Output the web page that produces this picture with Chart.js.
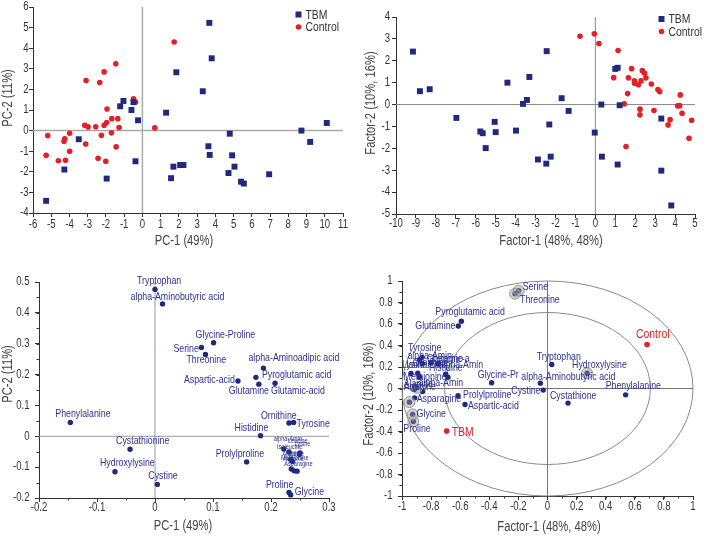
<!DOCTYPE html>
<html>
<head>
<meta charset="utf-8">
<script src="https://cdn.jsdelivr.net/npm/chart.js@4.4.1/dist/chart.umd.min.js"></script>
<style>
  body { margin: 0; background: #fff; }
  #wrap { position: relative; width: 708px; height: 538px; overflow: hidden; }
  canvas { position: absolute; }
</style>
</head>
<body>
<div id="wrap">
  <canvas id="c1" width="354" height="269" style="left:0;top:0"></canvas>
  <canvas id="c2" width="354" height="269" style="left:354px;top:0"></canvas>
  <canvas id="c3" width="354" height="269" style="left:0;top:269px"></canvas>
  <canvas id="c4" width="354" height="269" style="left:354px;top:269px"></canvas>
</div>
<script>
// --- panel 1 : PCA scores ---
const pcaTbmX = [3.67, 3.80, 1.86, 3.31, -1.04, -0.49, -1.22, -0.60, -0.24, 1.30, -3.49, 4.79, 8.72, 10.11, 9.20, 3.62, 3.69, 4.92, -0.38, -4.28, -1.96, 1.70, 2.07, 2.25, 1.57, 5.05, 4.72, 6.95, 5.41, 5.56, -5.28];
const pcaTbmY = [5.23, 3.51, 2.83, 1.91, 1.44, 1.38, 1.18, 1.00, 0.50, 0.87, -0.42, -0.15, 0.00, 0.37, -0.55, -0.76, -1.18, -1.20, -1.49, -1.89, -2.33, -1.75, -1.67, -1.67, -2.31, -1.75, -2.06, -2.12, -2.48, -2.57, -3.41];
const pcaCtrlX = [1.74, -1.46, -2.10, -3.09, -2.34, -0.49, -0.38, -1.94, -1.68, -1.35, -1.96, -2.10, -3.16, -2.98, -2.56, -1.28, 0.68, -5.19, -2.25, -1.70, -3.99, -4.26, -4.30, -3.11, -1.44, -3.99, -5.28, -4.61, -4.22, -2.43, -2.01];
const pcaCtrlY = [4.30, 3.24, 2.85, 2.43, 2.33, 1.54, 1.38, 1.05, 0.58, 0.58, 0.39, 0.26, 0.26, 0.18, 0.19, 0.15, 0.13, -0.24, -0.23, -0.11, -0.13, -0.40, -0.52, -0.65, -0.79, -1.00, -1.20, -1.46, -1.44, -1.34, -1.49];

// --- panel 2 : factor scores ---
const facTbmX = [-9.15, -8.80, -8.31, -6.97, -4.41, -3.31, -2.44, -3.43, -3.63, -1.69, -1.34, -2.31, -5.05, -5.77, -5.65, -5.00, -3.98, -5.50, -2.88, -2.46, -2.24, 0.30, 1.22, -0.03, 1.00, 1.12, 0.33, 1.12, 3.31, 3.31, 3.81];
const facTbmY = [2.42, 0.61, 0.70, -0.61, 1.00, 1.26, 2.44, 0.21, 0.03, 0.29, -0.29, -0.91, -0.79, -1.23, -1.31, -1.26, -1.19, -1.99, -2.51, -2.70, -2.38, 0.00, -0.03, -1.28, 1.63, 1.68, -2.38, -2.74, -0.64, -3.02, -4.61];
const facCtrlX = [-0.77, -0.05, 0.18, 1.14, 1.82, 0.92, 1.66, 1.96, 1.97, 2.16, 2.29, 2.36, 2.47, 2.54, 2.81, 3.14, 3.23, 1.62, 1.45, 2.24, 2.24, 2.94, 3.75, 3.65, 4.26, 4.13, 4.23, 4.35, 4.83, 4.70, 1.54];
const facCtrlY = [3.12, 3.23, 2.79, 2.47, 1.64, 1.23, 1.22, 1.08, 0.97, 0.90, 1.08, 1.55, 1.43, 1.22, 0.94, 0.69, 0.59, 0.50, 0.03, -0.21, -0.47, -0.27, -0.69, -0.93, 0.44, -0.06, -0.05, -0.40, -0.72, -1.54, -1.92];

const groupNames = ['TBM', 'Control'];

// --- panel 3 : PCA loadings ---
const loadNames = ['Tryptophan', 'alpha-Aminobutyric acid', 'Glycine-Proline', 'Serine', 'Threonine',
  'alpha-Aminoadipic acid', 'Pyroglutamic acid', 'Aspartic-acid', 'Glutamine', 'Glutamic-acid',
  'Phenylalanine', 'Ornithine', 'Tyrosine', 'Histidine', 'Cystathionine', 'Hydroxylysine', 'Cystine',
  'Prolylproline', 'Proline', 'Glycine',
  'alpha-Amin', 'Isoleucine', 'Lysine', 'Leucine', 'Valine', 'Alanine', 'Arginine', 'Asparagine', 'Methionine'];
const loadX = [0.000, 0.013, 0.101, 0.080, 0.087, 0.187, 0.174, 0.143, 0.179, 0.207,
  -0.146, 0.231, 0.239, 0.182, -0.043, -0.069, 0.004, 0.158, 0.231, 0.234,
  0.222, 0.231, 0.249, 0.250, 0.234, 0.237, 0.235, 0.240, 0.245];
const loadY = [0.476, 0.429, 0.303, 0.288, 0.265, 0.221, 0.191, 0.179, 0.169, 0.172,
  0.045, 0.043, 0.045, 0.002, -0.042, -0.115, -0.156, -0.083, -0.182, -0.190,
  -0.041, -0.051, -0.058, -0.054, -0.075, -0.082, -0.106, -0.112, -0.113];

// --- panel 4 : factor loadings ---
const facLoadNames = ['Serine', 'Threonine', 'Pyroglutamic acid', 'Glutamine', 'Tyrosine', 'alpha-Amin',
  'Glutamic-a', 'Isoleucine', 'Leucine', 'alpha-Amin', 'Lysine', 'Histidine', 'Methionine', 'Ornithine',
  'Alanine', 'alpha-Amin', 'Arginine', 'Valine', 'Asparagine', 'Cysteine', 'Glycine', 'Proline',
  'Prolylproline', 'Aspartic-acid', 'Glycine-Pr', 'Tryptophan', 'Hydroxylysine', 'alpha-Aminobutyric acid',
  'Cystine', 'Phenylalanine', 'Cystathione'];
const facLoadX = [-0.198, -0.223, -0.592, -0.613, -0.862, -0.880, -0.800, -0.860, -0.750, -0.700, -0.938, -0.684,
  -0.879, -0.892, -0.913, -0.858, -0.920, -0.897, -0.913, -0.949, -0.927, -0.922,
  -0.615, -0.567, -0.384, 0.029, 0.272, -0.049, -0.029, 0.537, 0.141];
const facLoadY = [0.910, 0.882, 0.625, 0.582, 0.290, 0.265, 0.240, 0.230, 0.230, 0.133, 0.140, 0.105,
  0.105, 0.142, 0.022, -0.028, -0.009, 0.006, -0.087, -0.127, -0.241, -0.307,
  -0.068, -0.149, 0.053, 0.223, 0.142, 0.050, -0.015, -0.059, -0.136];
const haloNames = ['Serine', 'Threonine', 'Hydroxylysine', 'Glycine', 'Proline', 'Cysteine', 'Valine'];
const groupLoadX = [-0.693, 0.684];
const groupLoadY = [-0.396, 0.409];
const circleRadii = [1, 0.707];

// label placement (text left edge / middle, px from the point, optional font size)
const loadLabelPos = [[-18, -8], [-32, -7], [-18, -8], [-28, 2], [-19, 5], [-15, -10], [6, -2], [-54, -1], [-30, 7], [-4, 8],
  [-15, -8], [-28, -7], [3, 2], [-26, -8], [-14, -8], [-15, -9], [-9, -8], [-31, -8], [-23, -7], [4, -3],
  [-10, -10, 7], [-12, -5, 7], [-5, -10, 7], [-12, -12, 7], [-2, -5, 7], [-10, -8, 7], [-8, -10, 7], [-10, -7, 7], [-16, -13, 7]];
const facLabelPos = [[4, -4], [5, 6], [-26, -9], [-43, 0], [-14, -9], [-12, -4], [-4, -4], [-16, 1], [-6, -5], [-7, -9], [-9, -8], [-19, -9],
  [-16, 0], [-5, -10], [-11, -2], [-4, -9], [-10, -2], null, [2, 1], null, [4, 0], [-10, 7],
  [5, -1], [3, 1], [-14, -8], [-15, -8], [-15, -8], [-19, -6], [-32, 1], [-20, -9], [-18, -7]];
const groupLabelPos = [[5, 1], [-11, -10]];

const FONT = "'Liberation Sans', Arial, sans-serif";
const SX = 0.8;          // the original uses a narrow face; squeeze the text horizontally
const NAVY = '#1f2a7c';
const LABEL = '#2e3192';
const RED = '#e41f26';

function pts(xs, ys) { return xs.map((x, i) => ({ x: x, y: ys[i] })); }
function fmt(v) { return String(Math.round(v * 1000) / 1000); }

// draw text squeezed horizontally
function squeeze(ctx, text, x, y, align, rot) {
  ctx.save();
  ctx.translate(x, y);
  if (rot) ctx.rotate(rot);
  ctx.scale(SX, 1);
  ctx.textAlign = align;
  ctx.textBaseline = 'middle';
  ctx.fillText(text, 0, 0);
  ctx.restore();
}

// grey zero lines across the plot
const zeroLines = {
  id: 'zeroLines',
  beforeDatasetsDraw(chart, args, opts) {
    const { ctx, chartArea: a, scales: { x, y } } = chart;
    const px = x.getPixelForValue(0), py = y.getPixelForValue(0);
    ctx.save();
    ctx.strokeStyle = opts.color || '#999';
    ctx.lineWidth = opts.width || 1;
    ctx.beginPath();
    ctx.moveTo(px, a.top); ctx.lineTo(px, a.bottom);
    ctx.moveTo(a.left, py); ctx.lineTo(a.right, py);
    ctx.stroke();
    ctx.restore();
  }
};

// correlation circles for the loading plot
const circles = {
  id: 'circles',
  beforeDatasetsDraw(chart, args, opts) {
    if (!opts.radii) return;
    const { ctx, scales: { x, y } } = chart;
    const cx = x.getPixelForValue(0), cy = y.getPixelForValue(0);
    ctx.save();
    ctx.strokeStyle = '#8a8a8a';
    ctx.lineWidth = 1;
    opts.radii.forEach(r => {
      ctx.beginPath();
      ctx.ellipse(cx, cy, x.getPixelForValue(r) - cx, cy - y.getPixelForValue(r), 0, 0, Math.PI * 2);
      ctx.stroke();
    });
    ctx.restore();
  }
};

// small minor ticks between the labelled ones
const minorTicks = {
  id: 'minorTicks',
  afterDraw(chart, args, opts) {
    if (!opts.x && !opts.y) return;
    const { ctx, chartArea: a, scales: { x, y } } = chart;
    ctx.save();
    ctx.strokeStyle = '#333';
    ctx.lineWidth = 1;
    ctx.beginPath();
    if (opts.x) {
      for (let v = x.min; v <= x.max + 1e-9; v += opts.x) {
        const p = Math.round(x.getPixelForValue(v)) + 0.5;
        ctx.moveTo(p, a.bottom); ctx.lineTo(p, a.bottom + 2.5);
      }
    }
    if (opts.y) {
      for (let v = y.min; v <= y.max + 1e-9; v += opts.y) {
        const p = Math.round(y.getPixelForValue(v)) + 0.5;
        ctx.moveTo(a.left, p); ctx.lineTo(a.left - 2.5, p);
      }
    }
    ctx.stroke();
    ctx.restore();
  }
};

// tick numbers and axis titles (narrow text)
const axisText = {
  id: 'axisText',
  afterDraw(chart, args, o) {
    const { ctx, chartArea: a, scales: { x, y } } = chart;
    ctx.save();
    ctx.fillStyle = '#333';
    ctx.font = '12px ' + FONT;
    x.ticks.forEach(t => squeeze(ctx, fmt(t.value), x.getPixelForValue(t.value), a.bottom + o.xGap, 'center'));
    y.ticks.forEach(t => squeeze(ctx, fmt(t.value), a.left - o.yGap, y.getPixelForValue(t.value), 'right'));
    ctx.fillStyle = '#444';
    ctx.font = '14px ' + FONT;
    squeeze(ctx, o.xTitle, o.xAt[0], o.xAt[1], 'center');
    squeeze(ctx, o.yTitle, o.yAt[0], o.yAt[1], 'center', -Math.PI / 2);
    ctx.restore();
  }
};

// text next to the points
const pointLabels = {
  id: 'pointLabels',
  afterDatasetsDraw(chart) {
    const ctx = chart.ctx;
    chart.data.datasets.forEach((ds, di) => {
      if (!ds.pointLabels) return;
      const meta = chart.getDatasetMeta(di);
      ctx.save();
      ctx.fillStyle = ds.labelColor;
      meta.data.forEach((el, i) => {
        const off = ds.labelPos[i];
        if (!off || !ds.pointLabels[i]) return;
        ctx.font = (off[2] || ds.labelSize) + 'px ' + FONT;
        squeeze(ctx, ds.pointLabels[i], el.x + off[0], el.y + off[1], 'left');
      });
      ctx.restore();
    });
  }
};

// legend inside the top right corner
const innerLegend = {
  id: 'innerLegend',
  afterDraw(chart, args, opts) {
    if (opts.x == null) return;
    const ctx = chart.ctx;
    ctx.save();
    chart.data.datasets.forEach((ds, i) => {
      const y = opts.y + i * 12.5;
      ctx.fillStyle = ds.backgroundColor;
      if (ds.pointStyle === 'rect') {
        ctx.fillRect(opts.x - 3, y - 3, 6, 6);
      } else {
        ctx.beginPath(); ctx.arc(opts.x, y, 2.8, 0, Math.PI * 2); ctx.fill();
      }
      ctx.fillStyle = '#333';
      ctx.font = '13px ' + FONT;
      squeeze(ctx, ds.label, opts.x + 7, y + 0.5, 'left');
    });
    ctx.restore();
  }
};

function makeChart(id, datasets, ax, pluginOpts) {
  return new Chart(document.getElementById(id), {
    type: 'scatter',
    data: { datasets: datasets },
    options: {
      responsive: false,
      animation: false,
      layout: { padding: { top: ax.top, right: 354 - ax.right, left: 0, bottom: 0 } },
      plugins: Object.assign({ legend: { display: false }, tooltip: { enabled: false } }, pluginOpts),
      scales: {
        x: {
          type: 'linear', min: ax.xMin, max: ax.xMax,
          ticks: { stepSize: ax.xStep, autoSkip: false, maxRotation: 0, display: false },
          grid: { drawOnChartArea: false, tickLength: 4, color: '#333' },
          border: { color: '#333' },
          afterFit(s) { s.height = 269 - ax.bottom; }
        },
        y: {
          type: 'linear', min: ax.yMin, max: ax.yMax,
          ticks: { stepSize: ax.yStep, autoSkip: false, display: false },
          grid: { drawOnChartArea: false, tickLength: 4, color: '#333' },
          border: { color: '#333' },
          afterFit(s) { s.width = ax.left; }
        }
      }
    },
    plugins: [zeroLines, circles, minorTicks, pointLabels, innerLegend, axisText]
  });
}

function scoreSets(tx, ty, cx, cy) {
  return [
    { label: groupNames[0], data: pts(tx, ty), pointStyle: 'rect', pointRadius: 4.2, backgroundColor: NAVY, borderWidth: 0 },
    { label: groupNames[1], data: pts(cx, cy), pointStyle: 'circle', pointRadius: 2.8, backgroundColor: RED, borderWidth: 0 }
  ];
}

makeChart('c1', scoreSets(pcaTbmX, pcaTbmY, pcaCtrlX, pcaCtrlY),
  { left: 33, right: 343, top: 7, bottom: 213, xMin: -6, xMax: 11, xStep: 1, yMin: -4, yMax: 6, yStep: 1 },
  { zeroLines: { color: '#aaa', width: 1.5 }, innerLegend: { x: 298.5, y: 14.5 },
    axisText: { xTitle: 'PC-1 (49%)', yTitle: 'PC-2 (11%)', xGap: 12, yGap: 4.5, xAt: [184, 241.5], yAt: [8, 98] } });

makeChart('c2', scoreSets(facTbmX, facTbmY, facCtrlX, facCtrlY),
  { left: 42, right: 341, top: 17, bottom: 214, xMin: -10, xMax: 5, xStep: 1, yMin: -5, yMax: 4, yStep: 1 },
  { zeroLines: { color: '#888', width: 1 }, innerLegend: { x: 307.5, y: 19 },
    axisText: { xTitle: 'Factor-1 (48%, 48%)', yTitle: 'Factor-2 (10%, 16%)', xGap: 10, yGap: 6, xAt: [197, 241.5], yAt: [17, 103] } });

makeChart('c3', [
    { data: pts(loadX, loadY), pointStyle: 'circle', pointRadius: 2.7, backgroundColor: NAVY, borderWidth: 0,
      pointLabels: loadNames, labelPos: loadLabelPos, labelColor: LABEL, labelSize: 11 }
  ],
  { left: 39, right: 329, top: 13, bottom: 229, xMin: -0.2, xMax: 0.3, xStep: 0.1, yMin: -0.2, yMax: 0.5, yStep: 0.1 },
  { zeroLines: { color: '#999', width: 1 }, minorTicks: { x: 0.05, y: 0.05 },
    axisText: { xTitle: 'PC-1 (49%)', yTitle: 'PC-2 (11%)', xGap: 9.5, yGap: 9.5, xAt: [183, 257.5], yAt: [8, 105] } });

const haloIdx = haloNames.map(n => facLoadNames.indexOf(n));
makeChart('c4', [
    { data: haloIdx.map(i => ({ x: facLoadX[i], y: facLoadY[i] })), pointStyle: 'circle', pointRadius: 5.5,
      backgroundColor: 'rgba(150,150,150,0.45)', borderColor: '#999', borderWidth: 1 },
    { data: pts(facLoadX, facLoadY), pointStyle: 'circle', pointRadius: 2.7, backgroundColor: NAVY, borderWidth: 0,
      pointLabels: facLoadNames, labelPos: facLabelPos, labelColor: LABEL, labelSize: 11 },
    { data: pts(groupLoadX, groupLoadY), pointStyle: 'circle', pointRadius: 2.8, backgroundColor: RED, borderWidth: 0,
      pointLabels: groupNames, labelPos: groupLabelPos, labelColor: RED, labelSize: 13 }
  ],
  { left: 48, right: 339, top: 12, bottom: 227, xMin: -1, xMax: 1, xStep: 0.2, yMin: -1, yMax: 1, yStep: 0.2 },
  { zeroLines: { color: '#777', width: 1 }, circles: { radii: circleRadii }, minorTicks: { x: 0.1, y: 0.1 },
    axisText: { xTitle: 'Factor-1 (48%, 48%)', yTitle: 'Factor-2 (10%, 16%)', xGap: 10.5, yGap: 9.5, xAt: [195, 258], yAt: [15.5, 125] } });
</script>
</body>
</html>
